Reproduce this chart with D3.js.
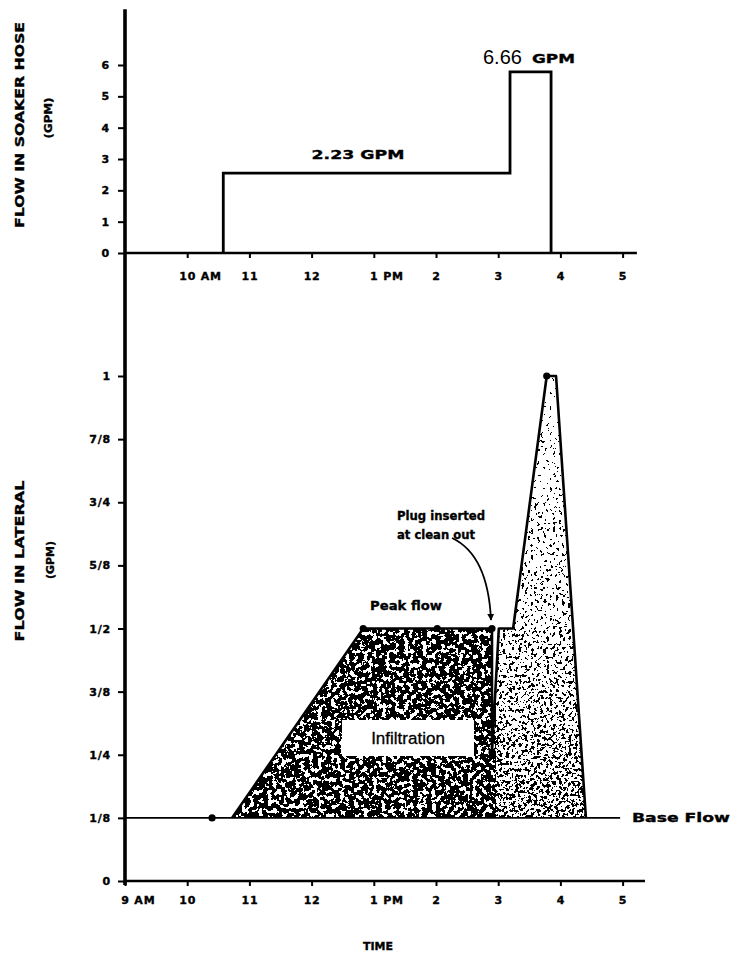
<!DOCTYPE html>
<html>
<head>
<meta charset="utf-8">
<script src="https://cdn.jsdelivr.net/npm/d3@7"></script>
<style>
  html, body { margin: 0; padding: 0; background: #fff; }
  svg { display: block; }
  .lbl { font-family: "DejaVu Sans", "Liberation Sans", sans-serif; font-weight: bold; fill: #000; stroke: #000; stroke-width: 0.35px; }
</style>
</head>
<body>
<svg id="chart" width="735" height="956"></svg>
<script>
// ---------- data ----------
const hourTicks = [9, 10, 11, 12, 13, 14, 15, 16, 17];
const topTickHours = [10, 11, 12, 13, 14, 15, 16, 17];
const topTickLabels = ["10 AM", "11", "12", "1 PM", "2", "3", "4", "5"];
const bottomTickLabels = ["9 AM", "10", "11", "12", "1 PM", "2", "3", "4", "5"];

const soakerTicks = [0, 1, 2, 3, 4, 5, 6];
const soakerTime = [10.58, 10.58, 15.19, 15.19, 15.85, 15.85];
const soakerFlow = [0, 2.55, 2.55, 5.78, 5.78, 0];

const lateralTicks = [0, 0.125, 0.25, 0.375, 0.5, 0.625, 0.75, 0.875, 1];
const lateralTickLabels = ["0", "1/8", "1/4", "3/8", "1/2", "5/8", "3/4", "7/8", "1"];
const lateralTime = [10.72, 12.83, 14.90, 14.90, 15.01, 15.24, 15.78, 15.93, 16.41];
const lateralFlow = [0.125, 0.5, 0.5, 0.255, 0.5, 0.5, 1, 1, 0.125];
const dotTime = [10.40, 12.83, 14.02, 14.90, 14.90, 15.78];
const dotFlow = [0.125, 0.5, 0.5, 0.5, 0.255, 1];
const baseFlow = 0.125;
const baseFlowEnd = 16.96;
const plugSplit = 14.95;

// ---------- scales ----------
const svg = d3.select("#chart");
const x = d3.scaleLinear().domain([9, 17]).range([125, 622.6]);
const yTop = d3.scaleLinear().domain([0, 6]).range([253, 65]);
const yBot = d3.scaleLinear().domain([0, 1]).range([881, 376]);

const defs = svg.append("defs");
function stipple(id, freq, seed, n, zeros) {
  const table = d3.range(n).map(i => i < zeros ? 0 : 1).join(" ");
  const f = defs.append("filter").attr("id", id)
    .attr("x", 0).attr("y", 0).attr("width", 1).attr("height", 1);
  f.append("feTurbulence").attr("type", "fractalNoise")
    .attr("baseFrequency", freq).attr("numOctaves", 3).attr("seed", seed).attr("result", "n");
  f.append("feColorMatrix").attr("in", "n").attr("type", "matrix")
    .attr("values", "0 0 0 0 0  0 0 0 0 0  0 0 0 0 0  1 0 0 0 0").attr("result", "a");
  const ct = f.append("feComponentTransfer").attr("in", "a");
  ct.append("feFuncA").attr("type", "discrete").attr("tableValues", table);
}
stipple("dense", 0.22, 4, 20, 9);

// ---------- lateral area ----------
const pts = lateralTime.map((t, i) => [t, lateralFlow[i]]);
const areaGen = d3.area().x(d => x(d[0])).y0(yBot(baseFlow)).y1(d => yBot(d[1]));
defs.append("clipPath").attr("id", "areaClip").append("path").attr("d", areaGen(pts));

const shade = svg.append("g").attr("clip-path", "url(#areaClip)");
shade.append("rect")
  .attr("x", x(10.5)).attr("y", yBot(0.55))
  .attr("width", x(plugSplit) - x(10.5)).attr("height", yBot(0.1) - yBot(0.55))
  .attr("filter", "url(#dense)");

// right region: density fades upward in bands
const bandLo = [0.10, 0.20, 0.30, 0.40, 0.50, 0.62, 0.75, 0.88];
const bandHi = [0.20, 0.30, 0.40, 0.50, 0.62, 0.75, 0.88, 1.05];
const bandZeros = [21, 22, 23, 24, 25, 26, 27, 28];
bandLo.forEach((lo, i) => {
  const id = "band" + i;
  stipple(id, 0.32, 9, 40, bandZeros[i]);
  shade.append("rect")
    .attr("x", x(plugSplit)).attr("y", yBot(bandHi[i]))
    .attr("width", x(16.6) - x(plugSplit)).attr("height", yBot(lo) - yBot(bandHi[i]))
    .attr("filter", `url(#${id})`);
});

// base flow line
svg.append("line")
  .attr("x1", x(9)).attr("x2", x(baseFlowEnd))
  .attr("y1", yBot(baseFlow)).attr("y2", yBot(baseFlow))
  .attr("stroke", "#000").attr("stroke-width", 1.8);

// lateral hydrograph
svg.append("path")
  .attr("d", d3.line().x(d => x(d[0])).y(d => yBot(d[1]))(pts))
  .attr("fill", "none").attr("stroke", "#000").attr("stroke-width", 2.6)
  .attr("stroke-linejoin", "round");

svg.append("g").selectAll("circle").data(dotTime).join("circle")
  .attr("cx", d => x(d)).attr("cy", (d, i) => yBot(dotFlow[i])).attr("r", 3.6).attr("fill", "#000");

// Infiltration box
const boxX0 = 342, boxX1 = 474, boxY0 = 720, boxY1 = 756;
svg.append("rect").attr("x", boxX0).attr("y", boxY0)
  .attr("width", boxX1 - boxX0).attr("height", boxY1 - boxY0).attr("fill", "#fff");
svg.append("text").attr("x", (boxX0 + boxX1) / 2).attr("y", (boxY0 + boxY1) / 2 + 6)
  .attr("text-anchor", "middle")
  .style("font-family", "'Liberation Sans', Arial, sans-serif").style("font-size", "17px")
  .style("stroke", "#000").style("stroke-width", "0.3px")
  .text("Infiltration");

// ---------- soaker hose step ----------
svg.append("path")
  .attr("d", d3.line().x((d, i) => x(d)).y((d, i) => yTop(soakerFlow[i]))(soakerTime))
  .attr("fill", "none").attr("stroke", "#000").attr("stroke-width", 2.8)
  .attr("stroke-linejoin", "miter");

// ---------- axes ----------
svg.append("line").attr("x1", 125).attr("x2", 125)
  .attr("y1", yTop(7.78)).attr("y2", yBot(-0.008))
  .attr("stroke", "#000").attr("stroke-width", 3.6);

function styleAxis(g) {
  g.select(".domain").remove();
  g.selectAll(".tick line").attr("stroke", "#000").attr("stroke-width", 2);
  g.selectAll(".tick text").attr("class", "lbl").style("font-size", "11px")
    .attr("fill", "#000").style("letter-spacing", "0.8px");
}

svg.append("g").attr("transform", "translate(125,0)")
  .call(d3.axisLeft(yTop).tickValues(soakerTicks).tickFormat(d3.format("d")).tickSize(7).tickPadding(8))
  .call(styleAxis);

svg.append("g").attr("transform", "translate(125,0)")
  .call(d3.axisLeft(yBot).tickValues(lateralTicks).tickFormat((d, i) => lateralTickLabels[i]).tickSize(7).tickPadding(7))
  .call(styleAxis);

svg.append("line").attr("x1", 125).attr("x2", x(17.23))
  .attr("y1", yTop(0)).attr("y2", yTop(0)).attr("stroke", "#000").attr("stroke-width", 2.6);
const gTopX = svg.append("g").attr("transform", `translate(0,${yTop(0)})`)
  .call(d3.axisBottom(x).tickValues(topTickHours).tickFormat((d, i) => topTickLabels[i]).tickSize(5).tickPadding(14))
  .call(styleAxis);

svg.append("line").attr("x1", 125).attr("x2", x(17.36))
  .attr("y1", yBot(0)).attr("y2", yBot(0)).attr("stroke", "#000").attr("stroke-width", 2.4);
const gBotX = svg.append("g").attr("transform", `translate(0,${yBot(0)})`)
  .call(d3.axisBottom(x).tickValues(hourTicks).tickFormat((d, i) => bottomTickLabels[i]).tickSize(5).tickPadding(10))
  .call(styleAxis);

[gTopX, gBotX].forEach(g => {
  g.selectAll(".tick text").each(function () {
    const t = d3.select(this);
    const s = t.text();
    const m = s.match(/^(\d+)(\s.*)$/);
    if (m) {
      t.text(m[1]);
      const w = this.getComputedTextLength();
      t.append("tspan").text(m[2]);
      t.attr("text-anchor", "start").attr("x", -w / 2);
    }
  });
});

// ---------- text labels ----------
function addText(txt, px, py, size, opts = {}) {
  const t = svg.append("text").attr("class", "lbl")
    .attr("x", px).attr("y", py)
    .attr("text-anchor", opts.anchor || "middle")
    .style("font-size", size + "px")
    .text(txt);
  if (opts.len) t.attr("textLength", opts.len).attr("lengthAdjust", "spacingAndGlyphs");
  if (opts.rot) t.attr("transform", `rotate(-90,${px},${py})`);
  return t;
}

addText("FLOW IN SOAKER HOSE", 24, 125, 11.5, { rot: true, len: 206 });
addText("(GPM)", 52, 118, 11, { rot: true, len: 41 });
addText("FLOW IN LATERAL", 24, 561, 11.5, { rot: true, len: 161 });
addText("(GPM)", 54, 560, 11, { rot: true, len: 38 });
addText("TIME", 378, 950, 11, { len: 30 });

addText("2.23 GPM", 358, 159, 13, { len: 93 });
svg.append("text").attr("x", 483).attr("y", 64)
  .style("font-family", "'Liberation Sans', Arial, sans-serif").style("font-size", "20px")
  .text("6.66");
addText("GPM", 532, 63, 13, { anchor: "start", len: 43 });

addText("Plug inserted", 397, 520, 12.5, { anchor: "start", len: 88 });
addText("at clean out", 397, 539, 12.5, { anchor: "start", len: 78 });
addText("Peak flow", 370, 610, 13, { anchor: "start", len: 72 });
addText("Base Flow", 632, 822, 12.5, { anchor: "start", len: 98 });

defs.append("marker").attr("id", "arrow").attr("viewBox", "0 0 10 10")
  .attr("refX", 9).attr("refY", 5).attr("markerWidth", 7).attr("markerHeight", 9)
  .attr("orient", "auto").attr("markerUnits", "userSpaceOnUse")
  .append("path").attr("d", "M0,0 L10,5 L0,10 Z").attr("fill", "#000");
svg.append("path")
  .attr("d", "M452,538 Q488,555 491,620")
  .attr("fill", "none").attr("stroke", "#000").attr("stroke-width", 1.8)
  .attr("marker-end", "url(#arrow)");
</script>
</body>
</html>
